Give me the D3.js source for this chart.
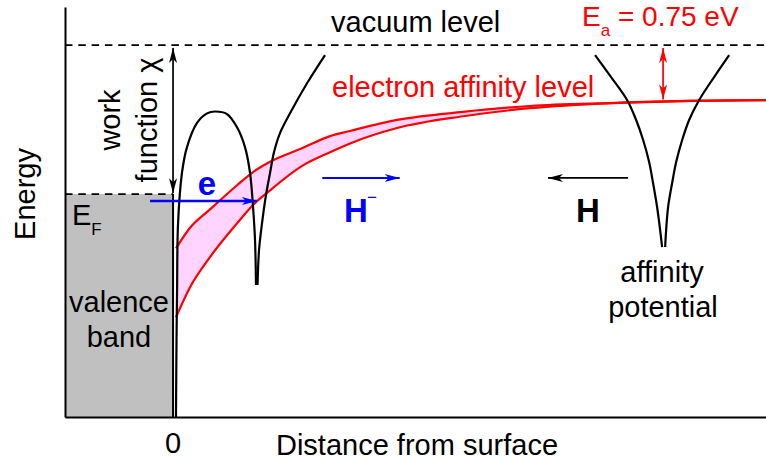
<!DOCTYPE html>
<html><head><meta charset="utf-8">
<script src="https://cdn.jsdelivr.net/npm/d3@7"></script>
<style>
body{margin:0;background:#fff}
svg{display:block}
text{font-family:"Liberation Sans",Arial,Helvetica,sans-serif}
</style>
</head><body>
<svg id="chart" width="766" height="466"></svg>
<script>
// ---------------- data (distance in arbitrary units, energy in eV, vacuum = 0) ----------------
const vacuumLevel = 0;
const fermiLevel = -2.03;
const electronAffinity = 0.75;
const surfaceX = -0.09;
const xDomain = [-10, 54.3];
const eDomain = [-5.07, 0.52];

// electron affinity level band (upper / lower bound) vs distance
const levelX        = [0.18, 1.47, 3.30, 5.78, 7.25, 8.81, 11.83, 14.31, 16.15, 20.46, 26.51, 32.66, 40.0, 47.34, 54.31];
const affinityUpper = [-2.77, -2.49, -2.24, -1.91, -1.73, -1.59, -1.40, -1.24, -1.17, -1.02, -0.91, -0.83, -0.79, -0.76, -0.75];
const affinityLower = [-3.71, -3.30, -2.89, -2.43, -2.18, -1.98, -1.64, -1.46, -1.34, -1.13, -0.97, -0.86, -0.79, -0.76, -0.75];

// surface barrier / image potential (left arc) and atom well right branch near surface
const barrierArcX = [0.18, 0.23, 0.28, 0.37, 0.73, 1.19, 2.11, 3.03, 3.76, 4.86, 5.78, 6.51, 6.97, 7.25, 7.43, 7.52];
const barrierArcE = [-5.07, -4.02, -3.34, -2.43, -1.74, -1.39, -1.06, -0.93, -0.905, -0.94, -1.12, -1.39, -1.74, -2.21, -2.66, -3.27];
const nearWellX   = [7.66, 7.80, 8.07, 8.44, 8.81, 9.17, 9.72, 10.64, 12.20, 13.85];
const nearWellE   = [-3.27, -2.79, -2.43, -2.04, -1.74, -1.46, -1.20, -0.93, -0.52, -0.135];

// free atom affinity potential (left / right branch)
const farWellLeftX  = [38.62, 40.09, 41.56, 42.39, 43.03, 43.58, 43.94, 44.31, 44.59, 44.77];
const farWellRightX = [50.92, 49.54, 48.17, 47.25, 46.61, 46.06, 45.69, 45.32, 45.14, 45.05];
const farWellE      = [-0.135, -0.435, -0.748, -1.021, -1.294, -1.594, -1.880, -2.207, -2.521, -2.753];

// arrows: [x1, E1, x2, E2]
const eArrow      = [-2.2, -2.125, 7.6, -2.125];
const hMinusArrow = [13.6, -1.81, 20.7, -1.81];
const hArrow      = [41.65, -1.81, 34.3, -1.81];
const xTicks = [0];
const xTickLabels = ["0"];

// ---------------- drawing ----------------
const svg = d3.select("#chart");
const x = d3.scaleLinear().domain(xDomain).range([65, 766]);
const y = d3.scaleLinear().domain(eDomain).range([417, 7]);
const FS = 29;
const FB = 33;

const defs = svg.append("defs");
function marker(id, color) {
  defs.append("marker").attr("id", id)
    .attr("viewBox", "-16 -6 17 12").attr("refX", 0).attr("refY", 0)
    .attr("markerWidth", 17).attr("markerHeight", 12)
    .attr("markerUnits", "userSpaceOnUse")
    .attr("orient", "auto-start-reverse")
    .append("path").attr("d", "M0,0 L-15,-4 L-11,0 L-15,4 Z").attr("fill", color);
}
marker("mk-black", "#000");
marker("mk-blue", "#0000ff");
marker("mk-red", "#ff0000");

// valence band
svg.append("rect")
  .attr("x", x(xDomain[0])).attr("y", y(fermiLevel))
  .attr("width", x(surfaceX) - x(xDomain[0]))
  .attr("height", y(eDomain[0]) - y(fermiLevel))
  .attr("fill", "#c0c0c0");
svg.append("line")
  .attr("x1", x(surfaceX)).attr("x2", x(surfaceX))
  .attr("y1", y(fermiLevel)).attr("y2", y(eDomain[0]))
  .attr("stroke", "#000").attr("stroke-width", 2);

// dashed levels
svg.append("line")
  .attr("x1", x(xDomain[0])).attr("x2", x(xDomain[1]))
  .attr("y1", y(vacuumLevel)).attr("y2", y(vacuumLevel))
  .attr("stroke", "#000").attr("stroke-width", 1.7).attr("stroke-dasharray", "7.5,5.8");
svg.append("line")
  .attr("x1", x(xDomain[0])).attr("x2", x(surfaceX))
  .attr("y1", y(fermiLevel)).attr("y2", y(fermiLevel))
  .attr("stroke", "#000").attr("stroke-width", 1.7).attr("stroke-dasharray", "7.5,5.8");

// affinity band
const band = levelX.map((v, i) => ({x: v, hi: affinityUpper[i], lo: affinityLower[i]}));
svg.append("path").datum(band)
  .attr("d", d3.area().x(d => x(d.x)).y0(d => y(d.lo)).y1(d => y(d.hi)).curve(d3.curveMonotoneX))
  .attr("fill", "#ffd4ff");
["hi", "lo"].forEach(k => {
  svg.append("path").datum(band)
    .attr("d", d3.line().x(d => x(d.x)).y(d => y(d[k])).curve(d3.curveMonotoneX))
    .attr("fill", "none").attr("stroke", "#ff0000").attr("stroke-width", 2.2);
});

// potentials
const pline = d3.line().x(d => x(d[0])).y(d => y(d[1])).curve(d3.curveCatmullRom.alpha(0.5));
function drawCurve(xs, es) {
  svg.append("path").datum(xs.map((v, i) => [v, es[i]]))
    .attr("d", pline).attr("fill", "none").attr("stroke", "#000").attr("stroke-width", 2.2);
}
drawCurve(barrierArcX, barrierArcE);
drawCurve(nearWellX, nearWellE);
drawCurve(farWellLeftX, farWellE);
drawCurve(farWellRightX, farWellE);

// axes
const gx = svg.append("g").attr("transform", `translate(0,${y(eDomain[0])})`)
  .call(d3.axisBottom(x).tickValues(xTicks).tickFormat((d, i) => xTickLabels[i]).tickSize(0).tickSizeOuter(0).tickPadding(15));
gx.select(".domain").attr("stroke-width", 2);
gx.selectAll("text").attr("font-size", FS).attr("fill", "#000")
  .attr("font-family", "Liberation Sans, Arial, sans-serif").attr("dx", "-1.5");
const gy = svg.append("g").attr("transform", `translate(${x(xDomain[0])},0)`)
  .call(d3.axisLeft(y).tickValues([]).tickSizeOuter(0));
gy.select(".domain").attr("stroke-width", 2);

// arrows
function arrow(a, color, w, both) {
  const l = svg.append("line")
    .attr("x1", x(a[0])).attr("y1", y(a[1])).attr("x2", x(a[2])).attr("y2", y(a[3]))
    .attr("stroke", color).attr("stroke-width", w)
    .attr("marker-end", `url(#mk-${color === "#000" ? "black" : color === "#0000ff" ? "blue" : "red"})`);
  if (both) l.attr("marker-start", l.attr("marker-end"));
}
arrow([surfaceX, vacuumLevel - 0.04, surfaceX, fermiLevel + 0.01], "#000", 1.7, true);
arrow([44.86, vacuumLevel - 0.04, 44.86, -electronAffinity + 0.01], "#ff0000", 1.7, true);
arrow(eArrow, "#0000ff", 2.4, false);
arrow(hMinusArrow, "#0000ff", 2, false);
arrow(hArrow, "#000", 1.7, false);

// text
function txt(s, px, py, opts = {}) {
  const t = svg.append("text").attr("x", px).attr("y", py).text(s)
    .attr("font-size", opts.size || FS).attr("fill", opts.color || "#000")
    .attr("text-anchor", opts.anchor || "start");
  if (opts.bold) t.attr("font-weight", "bold");
  if (opts.rotate) t.attr("x", 0).attr("y", 0).attr("transform", `translate(${px},${py}) rotate(-90)`);
  return t;
}
txt("vacuum level", 331, 32);
txt("electron affinity level", 332, 97, {color: "#ff0000"});
const ea = txt("E", 582, 26, {color: "#ff0000", size: 28});
ea.append("tspan").attr("font-size", 17).attr("dy", 10).text("a");
ea.append("tspan").attr("dy", -10).text(" = 0.75 eV");
const ef = txt("E", 72, 225);
ef.append("tspan").attr("font-size", 17).attr("dy", 10).text("F");
txt("valence", 119, 312, {anchor: "middle"});
txt("band", 119, 347, {anchor: "middle"});
txt("work", 120, 120, {anchor: "middle", rotate: true});
txt("function χ", 157, 120, {anchor: "middle", rotate: true});
txt("Energy", 35, 194, {anchor: "middle", rotate: true});
txt("e", 207, 195, {anchor: "middle", bold: true, color: "#0000ff", size: FB});
txt("H", 344, 222, {bold: true, color: "#0000ff", size: FB});
txt("−", 367, 203, {size: 17, color: "#0000ff"});
txt("H", 576, 222, {bold: true, size: FB});
txt("affinity", 662, 282, {anchor: "middle"});
txt("potential", 663, 317, {anchor: "middle"});
txt("Distance from surface", 417, 455, {anchor: "middle"});
</script>
</body></html>
